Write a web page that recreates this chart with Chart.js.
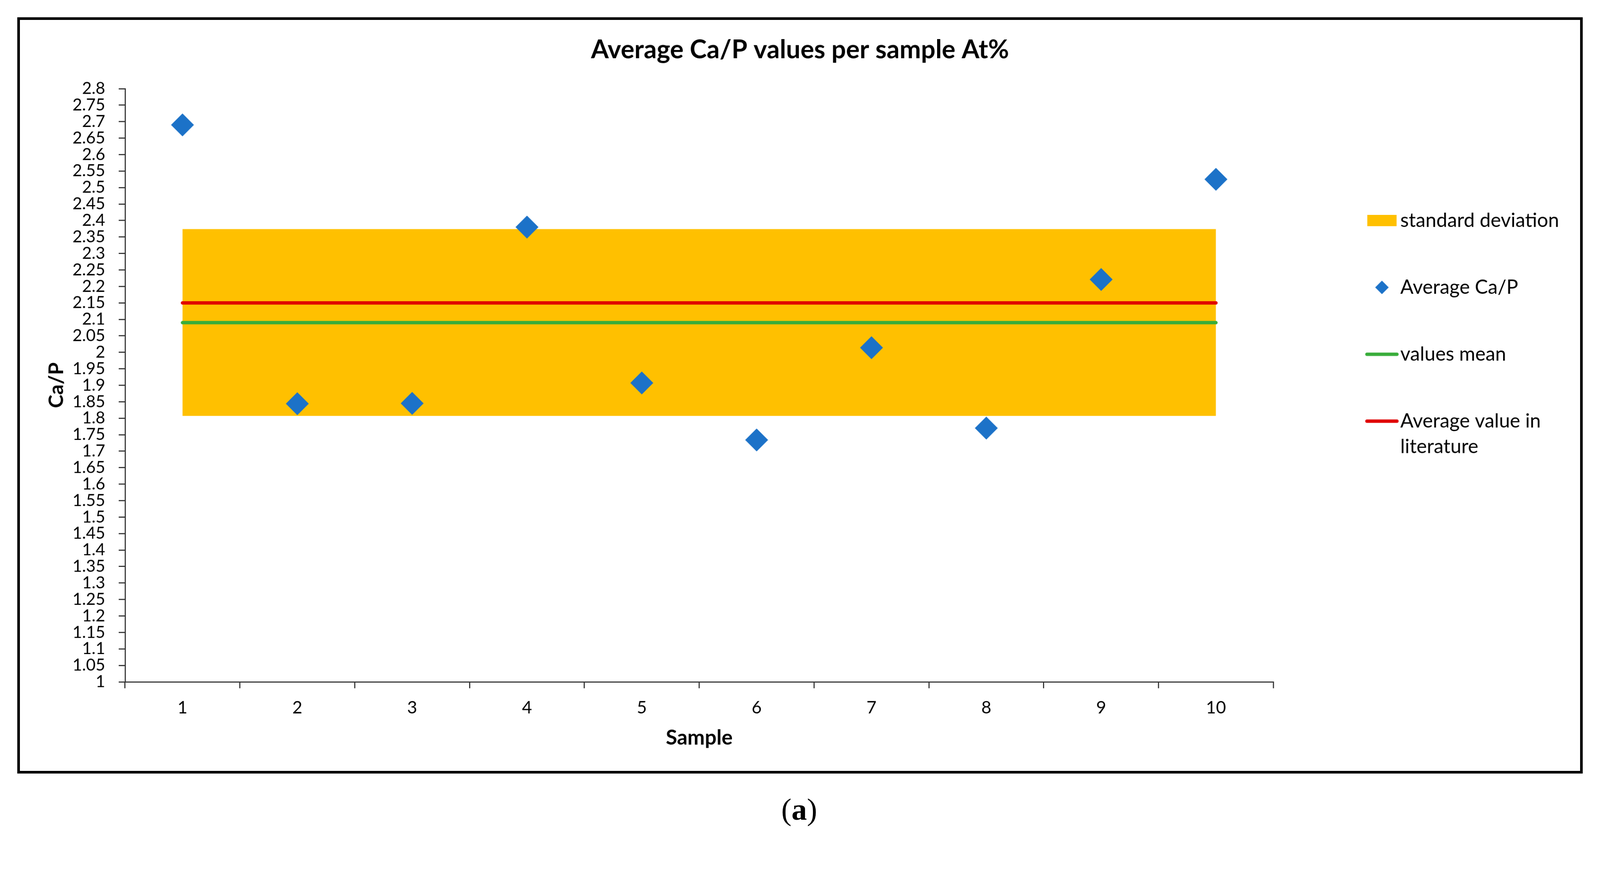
<!DOCTYPE html>
<html>
<head>
<meta charset="utf-8">
<title>Average Ca/P values per sample At%</title>
<script src="https://cdn.jsdelivr.net/npm/chart.js@4.4.0/dist/chart.umd.min.js"></script>
<style>
  html, body { margin: 0; padding: 0; background: #fff; width: 100%; height: 100%; overflow: hidden; }
  #stage { position: absolute; left: 0; top: 0; width: 4260px; height: 2242px; transform-origin: 0 0; }
  #frame { position: absolute; left: 46px; top: 46px; width: 4168px; height: 2013px; box-sizing: border-box; border: 7px solid #000; }
  #chart { position: absolute; left: 0; top: 0; }
  #caption { position: absolute; left: 0; top: 2100px; width: 4256px; text-align: center; font-family: 'Liberation Serif', serif; font-size: 82px; line-height: 110px; color: #000; }
</style>
</head>
<body>
<div id="stage">
  <div id="frame"></div>
  <canvas id="chart" width="4260" height="2242"></canvas>
  <div id="caption">(<b>a</b>)</div>
</div>
<script>
    // Samples on the x axis
    const samples = ['1', '2', '3', '4', '5', '6', '7', '8', '9', '10'];

    // Average Ca/P per sample (At%)
    const avgCaP = [2.690, 1.844, 1.845, 2.380, 1.907, 1.734, 2.014, 1.770, 2.221, 2.525];

    // Horizontal reference series
    const valuesMean = [2.09, 2.09, 2.09, 2.09, 2.09, 2.09, 2.09, 2.09, 2.09, 2.09];
    const literatureAvg = [2.15, 2.15, 2.15, 2.15, 2.15, 2.15, 2.15, 2.15, 2.15, 2.15];

    // Standard deviation band (lower / upper edge)
    const sdLower = [1.807, 1.807, 1.807, 1.807, 1.807, 1.807, 1.807, 1.807, 1.807, 1.807];
    const sdUpper = [2.374, 2.374, 2.374, 2.374, 2.374, 2.374, 2.374, 2.374, 2.374, 2.374];

    // Y axis ticks
    const yMin = 1;
    const yMax = 2.8;
    const yStep = 0.05;

    const gold = '#FFC000';
    const blue = '#1C72C8';
    const green = '#38AD3A';
    const red = '#E00000';
    const axisColor = '#333333';

    // keep the 4260x2242 design fitted to whatever the viewport really is
    const stage = document.getElementById('stage');
    const fitScale = Math.min(window.innerWidth / 4260, window.innerHeight / 2242);
    stage.style.transform = 'scale(' + fitScale + ')';

    // small canvases used as legend symbols
    function makeSwatch(kind, color) {
        const c = document.createElement('canvas');
        c.width = 240;
        c.height = 60;
        const g = c.getContext('2d');
        const cx = 190, cy = 30;
        g.fillStyle = color;
        g.strokeStyle = color;
        if (kind === 'rect') {
            g.fillRect(cx - 39, cy - 15, 78, 30);
        } else if (kind === 'diamond') {
            g.beginPath();
            g.moveTo(cx - 18, cy);
            g.lineTo(cx, cy - 18);
            g.lineTo(cx + 18, cy);
            g.lineTo(cx, cy + 18);
            g.closePath();
            g.fill();
        } else {
            g.lineWidth = 9;
            g.lineCap = 'round';
            g.beginPath();
            g.moveTo(cx - 40, cy);
            g.lineTo(cx + 40, cy);
            g.stroke();
        }
        return c;
    }

    const legendItems = [
        { text: 'standard deviation', style: makeSwatch('rect', gold), ds: 1 },
        { text: 'Average Ca/P', style: makeSwatch('diamond', blue), ds: 4 },
        { text: 'values mean', style: makeSwatch('line', green), ds: 2 },
        { text: ['Average value in', 'literature'], style: makeSwatch('line', red), ds: 3 }
    ];

    const ctx = document.getElementById('chart').getContext('2d');
    const chart = new Chart(ctx, {
        type: 'line',
        data: {
            labels: samples,
            datasets: [
                {
                    label: 'sd lower',
                    data: sdLower,
                    borderWidth: 0,
                    pointRadius: 0,
                    fill: false,
                    order: 5
                },
                {
                    label: 'standard deviation',
                    data: sdUpper,
                    borderWidth: 0,
                    pointRadius: 0,
                    backgroundColor: gold,
                    fill: '-1',
                    order: 4
                },
                {
                    label: 'values mean',
                    data: valuesMean,
                    borderColor: green,
                    borderWidth: 9,
                    borderCapStyle: 'round',
                    pointRadius: 0,
                    fill: false,
                    order: 3
                },
                {
                    label: 'Average value in literature',
                    data: literatureAvg,
                    borderColor: red,
                    borderWidth: 9,
                    borderCapStyle: 'round',
                    pointRadius: 0,
                    fill: false,
                    order: 2
                },
                {
                    label: 'Average Ca/P',
                    data: avgCaP,
                    showLine: false,
                    pointStyle: 'rectRot',
                    pointRadius: 30,
                    pointBackgroundColor: blue,
                    pointBorderColor: blue,
                    pointBorderWidth: 1,
                    fill: false,
                    order: 1
                }
            ]
        },
        options: {
            responsive: false,
            animation: false,
            layout: {
                padding: { top: 0, left: 99, right: 99, bottom: 200 }
            },
            scales: {
                x: {
                    offset: true,
                    grid: {
                        drawOnChartArea: false,
                        drawTicks: true,
                        tickLength: 17,
                        offset: true,
                        color: axisColor,
                        lineWidth: 3
                    },
                    border: { display: true, color: axisColor, width: 3 },
                    ticks: {
                        color: '#000',
                        font: { family: 'Lato', size: 46 },
                        padding: 25,
                        autoSkip: false,
                        maxRotation: 0
                    },
                    title: {
                        display: true,
                        text: 'Sample',
                        color: '#000',
                        font: { family: 'Lato', size: 55, weight: 'bold' },
                        padding: { top: 22, bottom: 45 }
                    },
                    afterFit: function (scale) { scale.height = 227; }
                },
                y: {
                    min: yMin,
                    max: yMax,
                    grid: {
                        drawOnChartArea: false,
                        drawTicks: true,
                        tickLength: 17,
                        color: axisColor,
                        lineWidth: 3
                    },
                    border: { display: true, color: axisColor, width: 3 },
                    ticks: {
                        stepSize: yStep,
                        autoSkip: false,
                        padding: 36,
                        color: '#000',
                        font: { family: 'Lato', size: 44 },
                        callback: function (v) { return String(Math.round(v * 100) / 100); }
                    },
                    title: {
                        display: true,
                        text: 'Ca/P',
                        color: '#000',
                        font: { family: 'Lato', size: 54, weight: 'bold' },
                        padding: { top: 19, bottom: 0 }
                    },
                    afterFit: function (scale) { scale.width = 234; }
                }
            },
            plugins: {
                title: {
                    display: true,
                    text: 'Average Ca/P values per sample At%',
                    color: '#000',
                    font: { family: 'Lato', size: 68, weight: 'bold' },
                    padding: { top: 92.2, bottom: 62.2 }
                },
                legend: {
                    position: 'right',
                    align: 'start',
                    title: {
                        display: true,
                        text: ' ',
                        font: { size: 1 },
                        padding: { top: 433.8, bottom: 0 }
                    },
                    labels: {
                        usePointStyle: true,
                        pointStyleWidth: 186,
                        boxWidth: 186,
                        padding: 126,
                        color: '#000',
                        font: { family: 'Lato', size: 52, lineHeight: 1.31 },
                        generateLabels: function () {
                            return legendItems.map(function (it) {
                                return {
                                    text: it.text,
                                    pointStyle: it.style,
                                    fillStyle: 'transparent',
                                    strokeStyle: 'transparent',
                                    lineWidth: 0,
                                    hidden: false,
                                    fontColor: '#000',
                                    datasetIndex: it.ds
                                };
                            });
                        }
                    }
                },
                tooltip: { enabled: false }
            }
        }
    });
</script>
</body>
</html>
